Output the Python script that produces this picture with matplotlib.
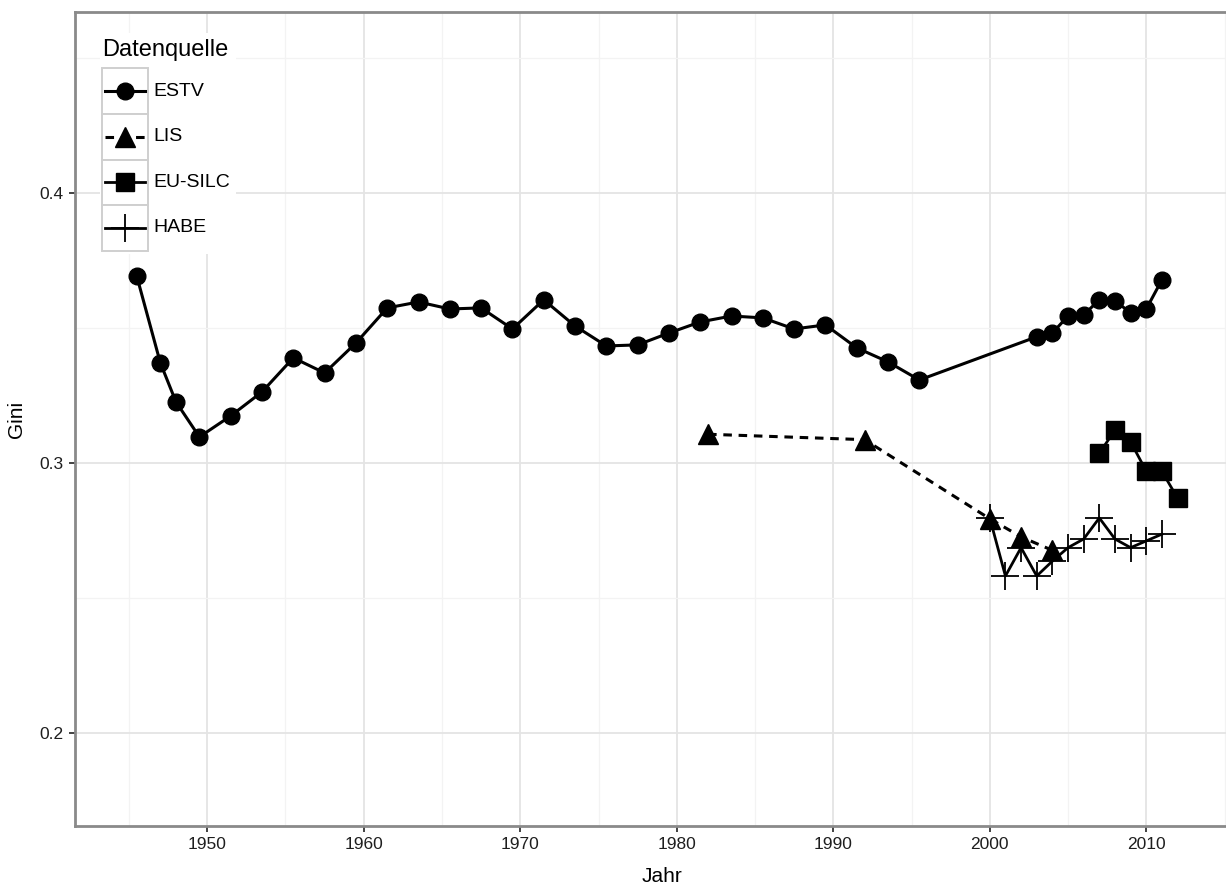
import matplotlib
matplotlib.use("Agg")
import matplotlib.pyplot as plt
from matplotlib.lines import Line2D
from matplotlib.patches import Rectangle
from matplotlib.ticker import MultipleLocator

plt.rcParams['font.family'] = ['Liberation Sans', 'DejaVu Sans']

# ================================
# Data
# ================================
estv_years = [1945.5, 1947, 1948, 1949.5, 1951.5, 1953.5, 1955.5, 1957.5, 1959.5,
              1961.5, 1963.5, 1965.5, 1967.5, 1969.5, 1971.5, 1973.5, 1975.5,
              1977.5, 1979.5, 1981.5, 1983.5, 1985.5, 1987.5, 1989.5, 1991.5,
              1993.5, 1995.5, 2003, 2004, 2005, 2006, 2007, 2008, 2009, 2010, 2011]
estv_gini = [0.369, 0.337, 0.3225, 0.3095, 0.3173, 0.3262, 0.3388, 0.3332, 0.3443,
             0.3573, 0.3595, 0.3569, 0.3573, 0.3495, 0.3603, 0.3506, 0.3432,
             0.3436, 0.348, 0.3521, 0.3543, 0.3536, 0.3495, 0.351, 0.3425,
             0.3373, 0.3306, 0.3466, 0.348, 0.3543, 0.3547, 0.3603, 0.3599,
             0.3555, 0.3569, 0.3677]

lis_years = [1982, 1992, 2000, 2002, 2004]
lis_gini = [0.3105, 0.3085, 0.2792, 0.2725, 0.2675]

silc_years = [2007, 2008, 2009, 2010, 2011, 2012]
silc_gini = [0.3035, 0.312, 0.3077, 0.2968, 0.2968, 0.2868]

habe_years = [2000, 2001, 2002, 2003, 2004, 2005, 2006, 2007, 2008, 2009, 2010, 2011]
habe_gini = [0.2795, 0.258, 0.2685, 0.258, 0.2635, 0.2685, 0.2717, 0.2795,
             0.2717, 0.2685, 0.2710, 0.2735]

series_labels = ["ESTV", "LIS", "EU-SILC", "HABE"]

# ================================
# Figure
# ================================
W, H = 1226, 889
fig = plt.figure(figsize=(W / 100, H / 100), dpi=100)


def fx(x):
    return x / W


def fy(y):
    return 1 - y / H


ax_left, ax_top, ax_bottom, ax_right = 75, 12, 826, 1248
ax = fig.add_axes([fx(ax_left), fy(ax_bottom), (ax_right - ax_left) / W,
                   (ax_bottom - ax_top) / H])

styles = [
    dict(marker='o', ms=12, ls='-', lw=2.2),
    dict(marker='^', ms=14, ls=(0, (2.8, 2.2)), lw=2.2),
    dict(marker='s', ms=12.5, ls='-', lw=2.0),
    dict(marker='+', ms=20, mew=1.3, ls='-', lw=2.0),
]

ax.plot(estv_years, estv_gini, color='black', zorder=4, **styles[0])
ax.plot(lis_years, lis_gini, color='black', zorder=4, **styles[1])
ax.plot(silc_years, silc_gini, color='black', zorder=4, **styles[2])
ax.plot(habe_years, habe_gini, color='black', zorder=4, **styles[3])

ax.set_xlim(1941.55, 2016.5)
ax.set_ylim(0.1654, 0.4669)

ax.xaxis.set_minor_locator(MultipleLocator(5))
ax.yaxis.set_minor_locator(MultipleLocator(0.05))
ax.set_xticks([1950, 1960, 1970, 1980, 1990, 2000, 2010])
ax.set_yticks([0.2, 0.3, 0.4])
ax.set_yticklabels(["0.2", "0.3", "0.4"])

ax.grid(which='major', color='#e4e4e4', lw=1.3, zorder=0)
ax.grid(which='minor', color='#f3f3f3', lw=0.9, zorder=0)
ax.set_axisbelow(True)
ax.tick_params(which='major', length=4, width=1.2, color='#222222',
               labelsize=12.5, labelcolor='#1e1e1e', pad=4)
ax.tick_params(which='minor', length=0)
for s in ax.spines.values():
    s.set_color('#8a8a8a')
    s.set_linewidth(2.0)

ax.set_xlabel("Jahr", fontsize=15, labelpad=11)
ax.set_ylabel("Gini", fontsize=15, labelpad=10)

# ================================
# Legend (ggplot style, built by hand)
# ================================
fig.add_artist(Rectangle((fx(100), fy(254)), 136 / W, 221 / H, transform=fig.transFigure,
                         facecolor='white', edgecolor='none', zorder=5))
fig.text(fx(102), fy(50), "Datenquelle", fontsize=17, va='center', ha='left', zorder=7)

key_l, key_w, key_top, key_h = 102.3, 46, 68.3, 45.6
for i, lab in enumerate(series_labels):
    top = key_top + i * key_h
    cy = top + key_h / 2
    fig.add_artist(Rectangle((fx(key_l), fy(top + key_h)), key_w / W, key_h / H,
                             transform=fig.transFigure, facecolor='white',
                             edgecolor='#cfcfcf', lw=1.4, zorder=6))
    st = dict(styles[i])
    mk = st.pop('marker')
    ms = st.pop('ms')
    mew = st.pop('mew', 1.0)
    fig.add_artist(Line2D([fx(key_l + 3), fx(key_l + key_w - 3)], [fy(cy), fy(cy)],
                          transform=fig.transFigure, color='black', zorder=7, **st))
    fig.add_artist(Line2D([fx(key_l + key_w / 2)], [fy(cy)], transform=fig.transFigure,
                          marker=mk, ms=ms, mew=mew, color='black', ls='none', zorder=8))
    fig.text(fx(153), fy(cy), lab, fontsize=14, va='center', ha='left', zorder=7)

fig.savefig("out.png", dpi=100)
